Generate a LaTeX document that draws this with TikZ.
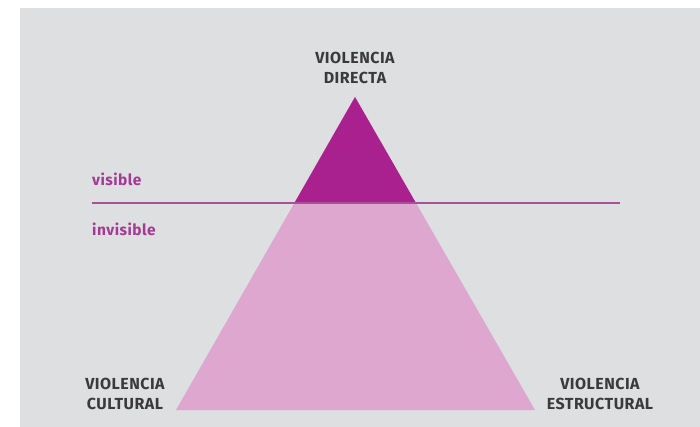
\documentclass[tikz,border=0pt]{standalone}
\usepackage{fontspec}
\setmainfont{Fira Sans}[UprightFont=* Bold, LetterSpace=3]
\usetikzlibrary{calc}
\begin{document}
\definecolor{bggray}{HTML}{DEDFE0}
\definecolor{darkmag}{HTML}{A9218E}
\definecolor{lightpink}{HTML}{DDA7D0}
\definecolor{linemag}{HTML}{A8509A}
\definecolor{labelmag}{HTML}{A33A93}
\definecolor{textgray}{HTML}{3A3A3C}
\begin{tikzpicture}[x=1pt,y=-1pt,
  cornerlabel/.style={align=center,text=textgray,font=\fontsize{16}{20}\selectfont,inner sep=0pt},
  sidelabel/.style={anchor=west,text=labelmag,font=\fontsize{15.5}{20}\selectfont,inner sep=0pt}]
\useasboundingbox (0,0) rectangle (700,427);
\fill[white] (0,0) rectangle (700,427);
\fill[bggray] (20,8) rectangle (700,427);
\coordinate (apex) at (355,97);
\coordinate (bl) at (176,410);
\coordinate (br) at (535,410);
\coordinate (ml) at ($(apex)!0.3387!(bl)$);
\coordinate (mr) at ($(apex)!0.3387!(br)$);
\fill[lightpink] (apex) -- (bl) -- (br) -- cycle;
\fill[darkmag] (apex) -- (ml) -- (mr) -- cycle;
\coordinate (lineL) at (92,203);
\coordinate (lineR) at (620,203);
\draw[linemag,line width=1.4pt] (lineL) -- (lineR);
\node[cornerlabel] (directa) at (355,68) {VIOLENCIA\\DIRECTA};
\node[cornerlabel] (cultural) at (125,394) {VIOLENCIA\\CULTURAL};
\node[cornerlabel] (estructural) at (600,394) {VIOLENCIA\\ESTRUCTURAL};
\node[sidelabel] (vis) at (92,179) {visible};
\node[sidelabel] (invis) at (92,229) {invisible};
\end{tikzpicture}
\end{document}
